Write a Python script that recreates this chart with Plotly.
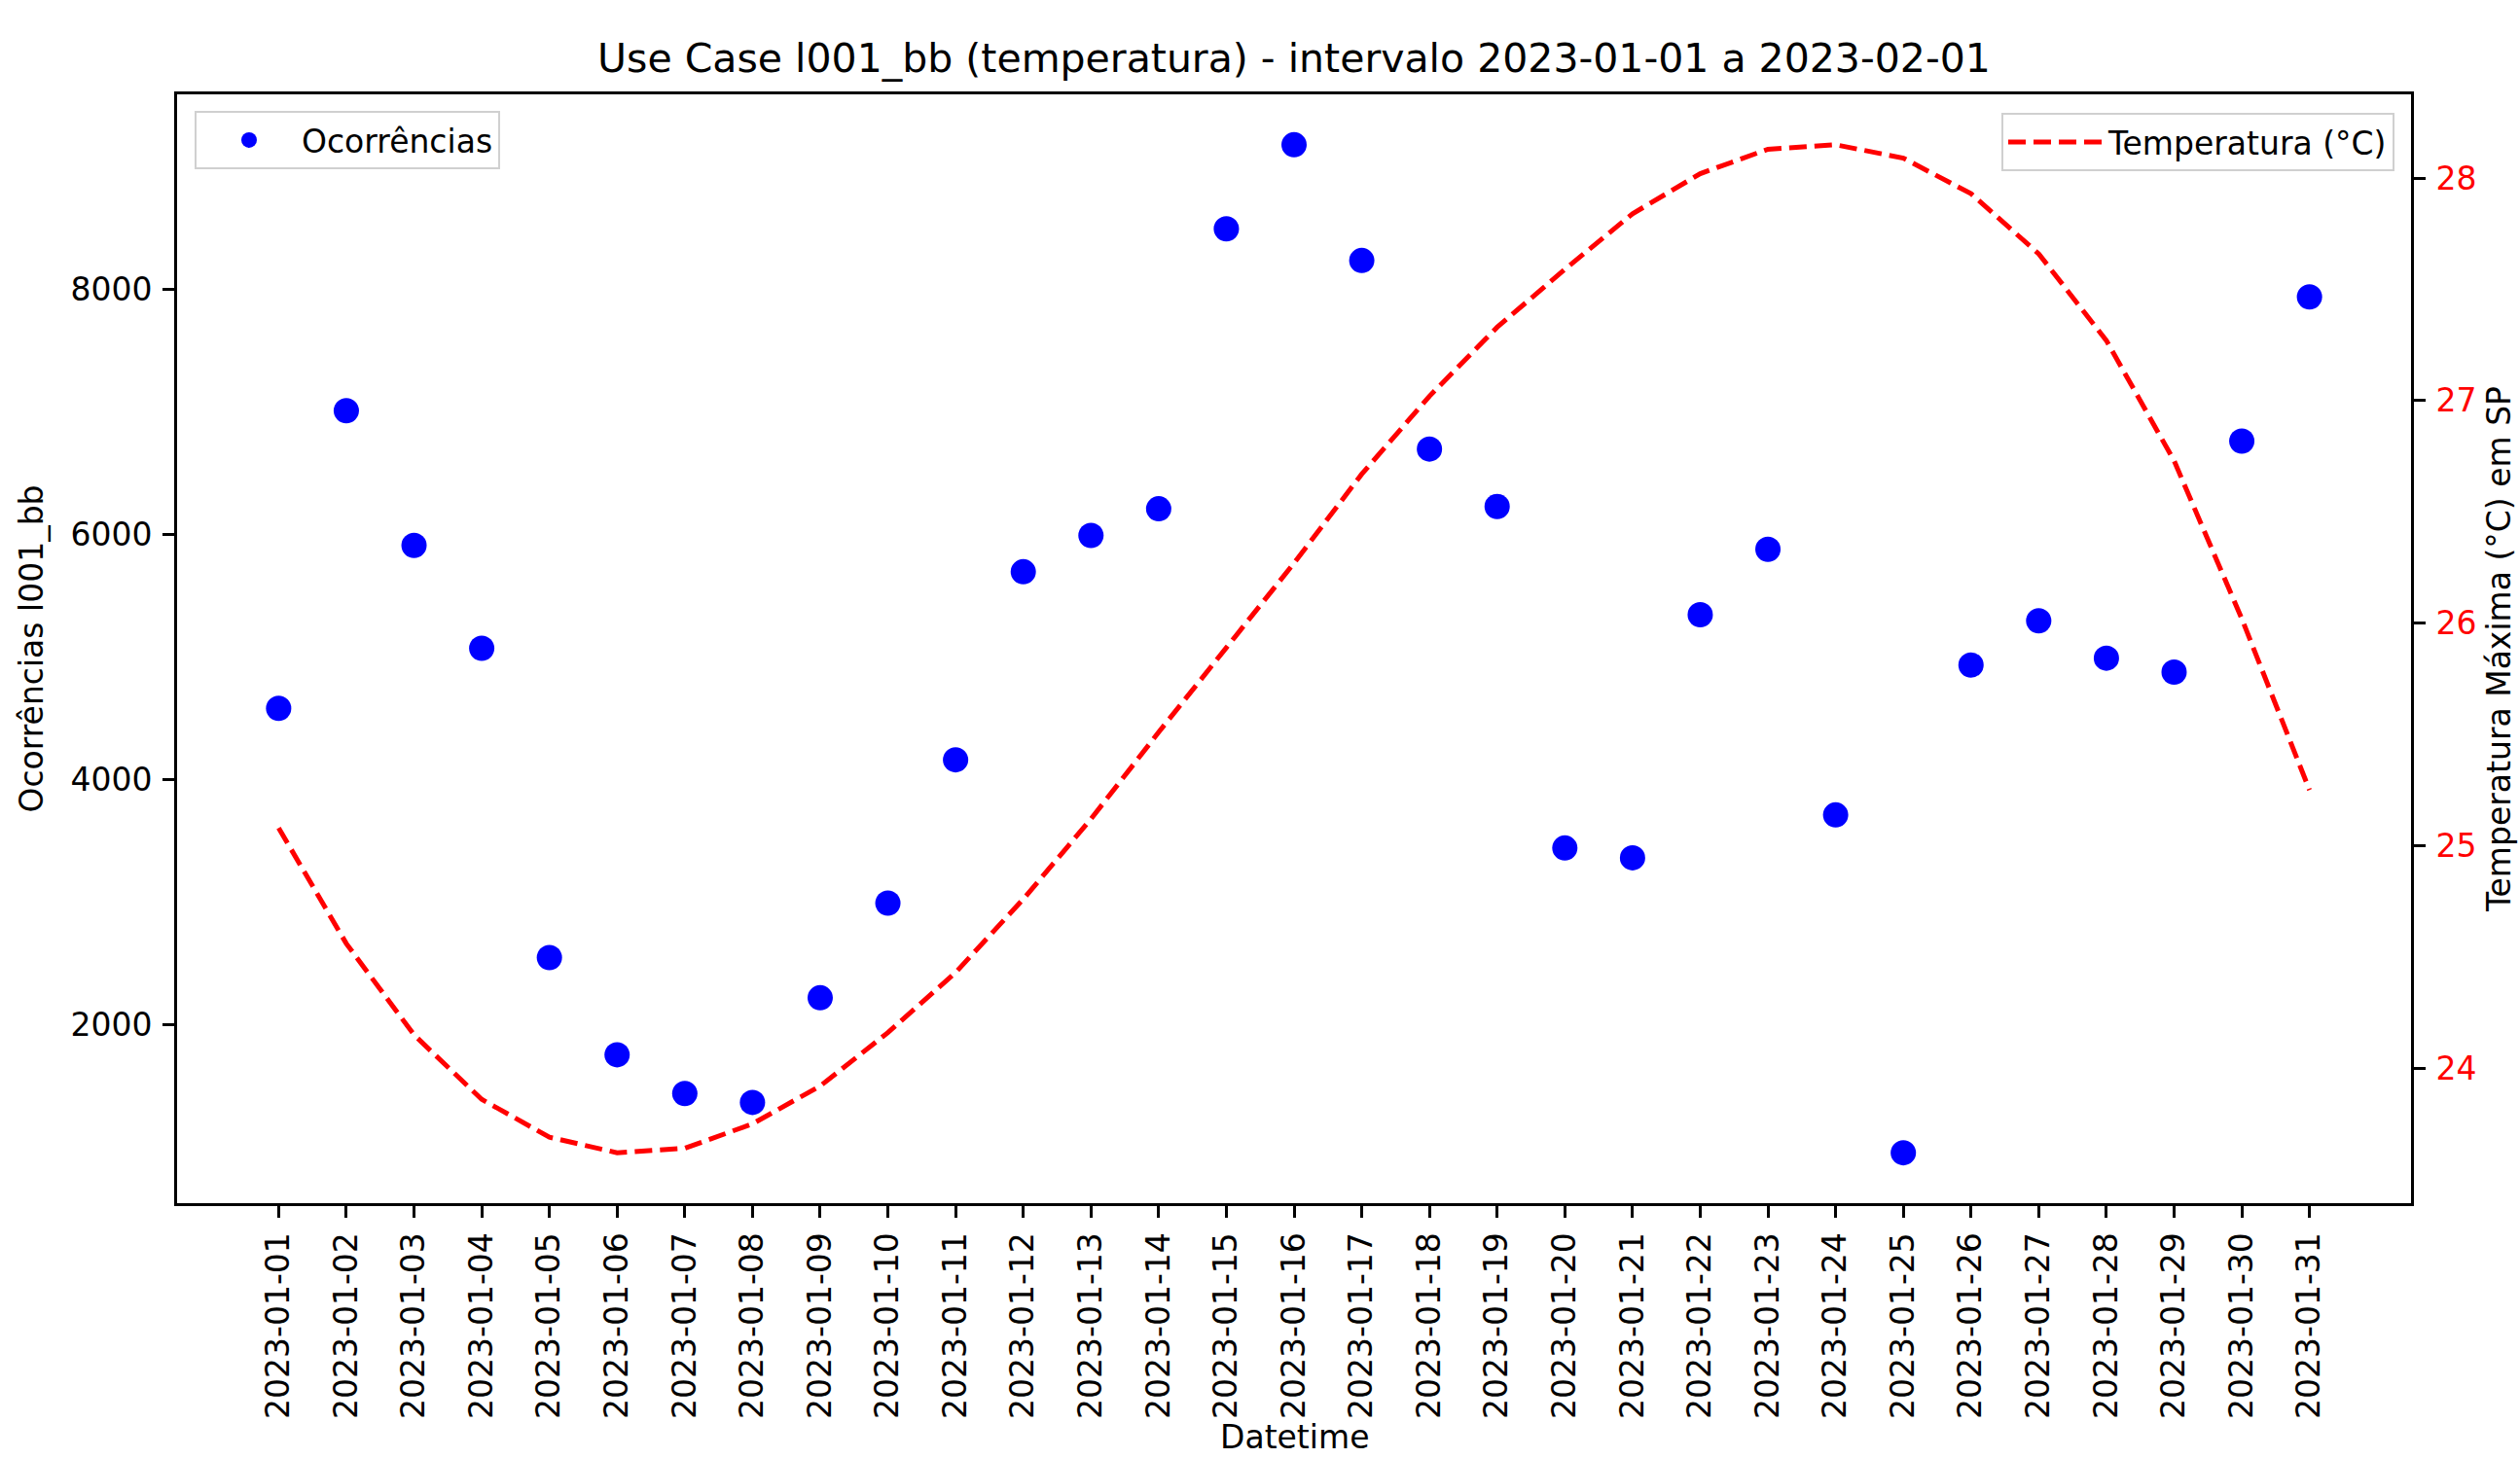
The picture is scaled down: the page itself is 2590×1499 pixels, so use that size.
import numpy as np
import plotly.graph_objects as go

dates = [f"2023-01-{d:02d}" for d in range(1, 32)]

ocorrencias = [4580, 7010, 5910, 5070, 2545, 1752, 1436, 1363, 2217, 2990,
               4160, 5695, 5992, 6209, 8495, 9181, 8236, 6697, 6228, 3440,
               3360, 5344, 5878, 3710, 952, 4933, 5295, 4990, 4876, 6762,
               7939]

temperatura = [25.08, 24.56, 24.15, 23.86, 23.69, 23.62, 23.64, 23.75, 23.92, 24.16,
               24.43, 24.76, 25.12, 25.51, 25.89, 26.27, 26.67, 27.02, 27.33, 27.59,
               27.84, 28.02, 28.13, 28.15, 28.09, 27.93, 27.66, 27.27, 26.73, 26.02,
               25.25]

title_text = "Use Case l001_bb (temperatura) - intervalo 2023-01-01 a 2023-02-01"
y1_label = "Ocorrências l001_bb"
y2_label = "Temperatura Máxima (°C) em SP"
x_label = "Datetime"
y1_ticks = [2000, 4000, 6000, 8000]
y2_ticks = [24, 25, 26, 27, 28]

FONT = "DejaVu Sans"
W, H = 2590, 1499
L, R, T, B = 182, 2590 - 2478, 97, 1499 - 1237
PW, PH = W - L - R, H - T - B


def padded(vals, frac=0.05):
    lo, hi = float(np.min(vals)), float(np.max(vals))
    span = hi - lo
    return [lo - frac * span, hi + frac * span]


fig = go.Figure()
fig.add_trace(go.Scatter(
    x=dates, y=ocorrencias, mode="markers", name="Ocorrências",
    marker=dict(color="#0000ff", size=26, line=dict(width=0)),
    legend="legend", showlegend=True, yaxis="y"))
fig.add_trace(go.Scatter(
    x=dates, y=temperatura, mode="lines", name="Temperatura (°C)",
    line=dict(color="#ff0000", width=5, dash="18px,8px"),
    legend="legend2", showlegend=True, yaxis="y2"))

axis_common = dict(
    showgrid=False, zeroline=False, showline=True, linecolor="black", linewidth=3,
    ticks="outside", ticklen=12, tickwidth=3, tickcolor="black",
)

legend_common = dict(
    bgcolor="rgba(255,255,255,0.8)", bordercolor="#d0d0d0", borderwidth=2,
    font=dict(family=FONT, size=33, color="black"), itemwidth=98,
    xref="paper", yref="paper",
)

fig.update_layout(
    width=W, height=H, autosize=False, showlegend=True,
    margin=dict(l=L, r=R, t=T, b=B, pad=0),
    paper_bgcolor="white", plot_bgcolor="white",
    font=dict(family=FONT, size=33, color="black"),
    title=dict(text=title_text, x=(L + (W - R)) / 2 / W, xanchor="center",
               xref="container", y=1 - 60 / H, yanchor="middle", yref="container",
               font=dict(family=FONT, size=41, color="black")),
    xaxis=dict(
        **axis_common, type="category", range=[-1.5, len(dates) - 0.5 + 1.0],
        tickangle=-90, tickfont=dict(family=FONT, size=33, color="black"),
        mirror=True, automargin=False, ticklabelstandoff=2,
    ),
    yaxis=dict(
        **axis_common, range=padded(ocorrencias), tickvals=y1_ticks,
        tickfont=dict(family=FONT, size=33, color="black"),
        title=dict(text=y1_label, standoff=18, font=dict(family=FONT, size=33)),
        automargin=False, ticklabelstandoff=4,
    ),
    yaxis2=dict(
        **axis_common, range=padded(temperatura), tickvals=y2_ticks,
        overlaying="y", side="right",
        tickfont=dict(family=FONT, size=33, color="#ff0000"),
        title=dict(text=y2_label, standoff=13, font=dict(family=FONT, size=33, color="black")),
        automargin=False, ticklabelstandoff=4,
    ),
    legend=dict(
        **legend_common,
        x=(200 - L) / PW, y=(1237 - 114) / PH, xanchor="left", yanchor="top",
    ),
    legend2=dict(
        **legend_common,
        x=(2461 - L) / PW, y=(1237 - 116) / PH, xanchor="right", yanchor="top",
    ),
    annotations=[dict(
        text=x_label, xref="paper", yref="paper", x=0.5, y=-(1477 - 1237) / PH,
        xanchor="center", yanchor="middle", showarrow=False,
        font=dict(family=FONT, size=33, color="black"),
    )],
)

fig.write_html(
    "out.html",
    config={"displayModeBar": False},
    post_script="document.documentElement.style.margin='0';document.body.style.margin='0';"
                "document.body.style.padding='0';document.body.style.overflow='hidden';",
)
